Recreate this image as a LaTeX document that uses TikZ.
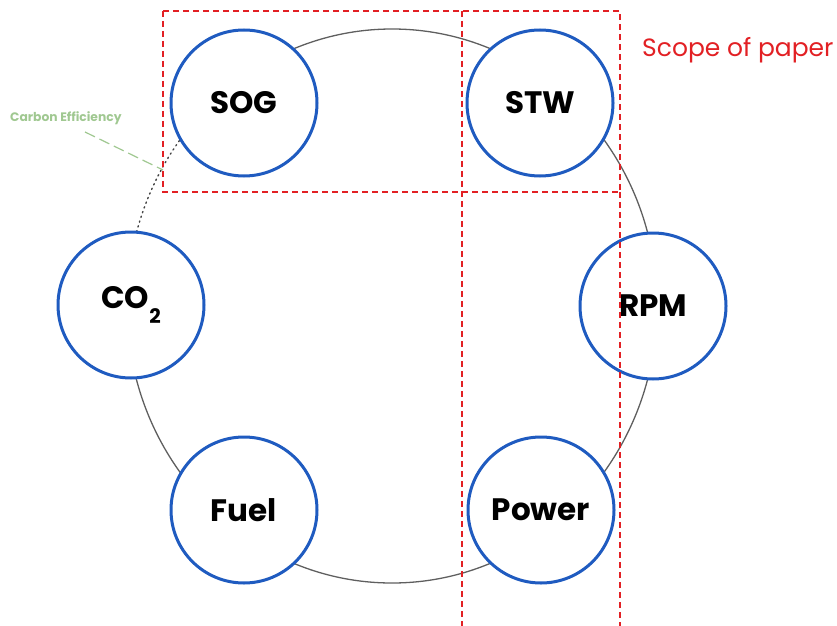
\documentclass[tikz,border=0pt]{standalone}
\usepackage{fontspec}
\setmainfont{Poppins}
\begin{document}
\begin{tikzpicture}[x=1pt,y=1pt,
  bubble/.style={circle,draw=bubbleblue,line width=3pt,fill=white,minimum size=146pt,inner sep=0pt,
    font=\fontsize{31}{33}\selectfont\bfseries,text=black},
  scopebox/.style={draw=scopered,line width=1.8pt,dash pattern=on 6pt off 4pt},
  ring/.style={draw=ringgray,line width=1.3pt},
  ringdot/.style={draw=ringgray!70!black,line width=1.4pt,dash pattern=on 1.3pt off 3.7pt,line cap=round}
]
\definecolor{bubbleblue}{RGB}{31,91,192}
\definecolor{scopered}{RGB}{226,32,36}
\definecolor{ringgray}{RGB}{95,95,95}
\definecolor{effgreen}{RGB}{160,200,145}
\useasboundingbox (0,0) rectangle (837,625);
\clip (0,0) rectangle (837,625);
% ring
\coordinate (rc) at (392,319);
\draw[ringdot] (127,319) arc[start angle=180,end angle=127,x radius=265,y radius=277];
\draw[ring] (127,319) arc[start angle=180,end angle=487,x radius=265,y radius=277];
% nodes
\node[bubble] (sog) at (244,522) {SOG};
\node[bubble] (stw) at (540,522) {STW};
\node[bubble] (co2) at (131,320) {CO\raisebox{-0.5em}{\fontsize{20}{20}\selectfont 2}};
\node[bubble] (rpm) at (653,319) {RPM};
\node[bubble] (fuel) at (244,115) {Fuel};
\node[bubble] (power) at (541,115) {Power};
% scope boxes
\draw[scopebox] (163,614) rectangle (620,433);
\draw[scopebox] (462,614) -- (462,-10);
\draw[scopebox] (620,433) -- (620,-10);
\node[anchor=west,text=scopered,font=\fontsize{25}{27}\selectfont,inner sep=0pt] (scope) at (642,575) {Scope of paper};
% carbon efficiency
\node[anchor=west,text=effgreen,font=\fontsize{12.3}{14}\selectfont\bfseries,inner sep=0pt] (ce) at (10,507) {Carbon Efficiency};
\coordinate (ceend) at (163,455);
\draw[effgreen,line width=1.2pt,dash pattern=on 11pt off 5pt] (85,493) -- (ceend);
\end{tikzpicture}
\end{document}
